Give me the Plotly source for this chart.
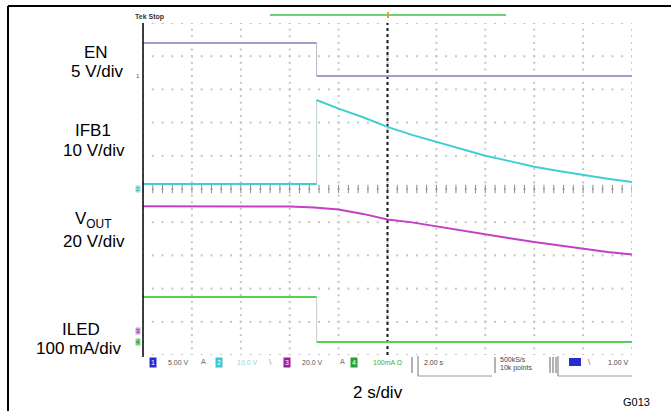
import plotly.graph_objects as go

W, H = 671, 411

# ---- timebase: 2 s/div, 10 divisions, trigger at screen centre ----
SEC_PER_DIV = 2.0
N_HDIV = 10
N_VDIV = 10
T_STEP = -2.9          # EN falling edge (s)

# ---- channel scales (unit/div) and ground offsets (div) ----
EN_SCALE, EN_OFFSET = 5.0, 3.40
IFB_SCALE, IFB_OFFSET = 10.0, 0.0
VOUT_SCALE, VOUT_OFFSET = 20.0, -4.28
ILED_SCALE, ILED_OFFSET = 100.0, -4.61

# ---- EN (V) ----
en_pre_t = [-10.0, T_STEP]
en_pre_v = [5.0, 5.0]
en_post_t = [T_STEP, 10.0]
en_post_v = [0.0, 0.0]

# ---- IFB1 (V) ----
ifb_pre_t = [-10.0, T_STEP]
ifb_pre_v = [1.5, 1.5]
ifb_post_t = [T_STEP, -2.0, -1.0, 0.0, 1.0, 2.0, 3.0, 4.0, 5.0, 6.0, 7.0, 8.0, 9.0, 10.0]
ifb_post_v = [26.8, 24.2, 21.6, 18.7, 16.3, 14.2, 12.0, 10.0, 8.4, 6.7, 5.4, 4.2, 3.1, 2.1]

# ---- VOUT (V) ----
vout_t = [-10.0, -6.0, -5.0, -4.0, -3.0, -2.0, -1.0, 0.0, 1.0, 2.0, 3.0, 4.0, 5.0, 6.0, 7.0, 8.0, 9.0, 10.0]
vout_v = [75.2, 75.2, 75.2, 75.0, 74.4, 73.3, 70.6, 67.2, 65.5, 63.0, 60.6, 58.2, 55.9, 53.7, 51.6, 49.6, 47.7, 46.1]

# ---- ILED (mA) ----
iled_pre_t = [-10.0, T_STEP]
iled_pre_v = [136.0, 136.0]
iled_post_t = [T_STEP, 10.0]
iled_post_v = [0.0, 0.0]

EN_COLOR = "#9e9ecb"
IFB_COLOR = "#3fcfcf"
VOUT_COLOR = "#c23fc6"
ILED_COLOR = "#55cf55"

# screen geometry (pixels)
GX0, GX1 = 143, 632
GY0, GY1 = 23, 355


def px(x):
    return x / W


def py(y):
    return 1 - y / H


def to_div(vals, scale, offset):
    return [offset + v / scale for v in vals]


fig = go.Figure()

# ---- graticule dots ----
half_t = SEC_PER_DIV * N_HDIV / 2
gx, gy = [], []
for i in range(N_HDIV + 1):
    t = -half_t + i * SEC_PER_DIV
    for k in range(N_VDIV * 5 + 1):
        gx.append(t)
        gy.append(-N_VDIV / 2 + k * 0.2)
for j in range(N_VDIV + 1):
    d = -N_VDIV / 2 + j
    for k in range(N_HDIV * 5 + 1):
        gx.append(-half_t + k * SEC_PER_DIV / 5)
        gy.append(d)
fig.add_trace(go.Scatter(x=gx, y=gy, mode="markers",
                         marker=dict(symbol="square", size=2, color="#c4c4c4", line=dict(width=0)),
                         hoverinfo="skip", showlegend=False))

# centre horizontal tick marks
tx = [-half_t + k * SEC_PER_DIV / 5 for k in range(N_HDIV * 5 + 1)]
fig.add_trace(go.Scatter(x=tx, y=[0] * len(tx), mode="markers",
                         marker=dict(symbol="line-ns", size=6, line=dict(width=1, color="#8a8a8a")),
                         hoverinfo="skip", showlegend=False))

# centre vertical (trigger) dotted line
fig.add_trace(go.Scatter(x=[0, 0], y=[-N_VDIV / 2, N_VDIV / 2], mode="lines",
                         line=dict(color="#1a1a1a", width=2, dash="dot"),
                         hoverinfo="skip", showlegend=False))


def add_line(t, v, scale, offset, color, width=2, opacity=1.0):
    fig.add_trace(go.Scatter(x=t, y=to_div(v, scale, offset), mode="lines",
                             line=dict(color=color, width=width), opacity=opacity,
                             hoverinfo="skip", showlegend=False))


# edges (fast transitions drawn faint)
add_line([T_STEP, T_STEP], [en_pre_v[-1], en_post_v[0]], EN_SCALE, EN_OFFSET, "#a8a8b8", 1, 0.8)
add_line([T_STEP, T_STEP], [ifb_pre_v[-1], ifb_post_v[0]], IFB_SCALE, IFB_OFFSET, "#b0c4c4", 1, 0.8)
add_line([T_STEP, T_STEP], [iled_pre_v[-1], iled_post_v[0]], ILED_SCALE, ILED_OFFSET, "#b4c4b4", 1, 0.8)

# waveforms
add_line(en_pre_t, en_pre_v, EN_SCALE, EN_OFFSET, EN_COLOR)
add_line(en_post_t, en_post_v, EN_SCALE, EN_OFFSET, EN_COLOR)
add_line(ifb_pre_t, ifb_pre_v, IFB_SCALE, IFB_OFFSET, IFB_COLOR)
add_line(ifb_post_t, ifb_post_v, IFB_SCALE, IFB_OFFSET, IFB_COLOR)
add_line(vout_t, vout_v, VOUT_SCALE, VOUT_OFFSET, VOUT_COLOR)
add_line(iled_pre_t, iled_pre_v, ILED_SCALE, ILED_OFFSET, ILED_COLOR)
add_line(iled_post_t, iled_post_v, ILED_SCALE, ILED_OFFSET, ILED_COLOR)

shapes = []
# outer frame
shapes.append(dict(type="line", xref="paper", yref="paper", x0=px(8), x1=px(672), y0=py(6), y1=py(6),
                   line=dict(color="black", width=2)))
shapes.append(dict(type="line", xref="paper", yref="paper", x0=px(8), x1=px(8), y0=py(6), y1=py(412),
                   line=dict(color="black", width=2)))
# left edge of the screen
shapes.append(dict(type="line", xref="paper", yref="paper", x0=px(GX0), x1=px(GX0), y0=py(23), y1=py(357),
                   line=dict(color="black", width=1.5)))
# record-length bar and trigger marker
shapes.append(dict(type="line", xref="paper", yref="paper", x0=px(270), x1=px(506), y0=py(15), y1=py(15),
                   line=dict(color="#6fcf7a", width=2)))
shapes.append(dict(type="line", xref="paper", yref="paper", x0=px(388), x1=px(388), y0=py(12), y1=py(18),
                   line=dict(color="#f0a030", width=2)))
# readout boxes
RY0, RY1 = 356, 376
for x0, x1 in [(418, 492), (558, 632)]:
    shapes.append(dict(type="line", xref="paper", yref="paper", x0=px(x0), x1=px(x0), y0=py(RY0), y1=py(RY1),
                       line=dict(color="#777", width=1)))
    shapes.append(dict(type="line", xref="paper", yref="paper", x0=px(x0), x1=px(x1), y0=py(RY1), y1=py(RY1),
                       line=dict(color="#999", width=1)))
for xb in [412, 495, 550, 553, 556]:
    shapes.append(dict(type="line", xref="paper", yref="paper", x0=px(xb), x1=px(xb), y0=py(357), y1=py(373),
                       line=dict(color="#666", width=1)))
# trigger-source pill in the readout
shapes.append(dict(type="rect", xref="paper", yref="paper", x0=px(569), x1=px(581), y0=py(366), y1=py(358),
                   line=dict(width=0), fillcolor="#2a2ad2"))

ann = []
FONT = "Liberation Sans, Arial, sans-serif"


def label(text, x, y, size=17, color="black", xanchor="center", family=FONT):
    ann.append(dict(text=text, x=px(x), y=py(y), xref="paper", yref="paper", showarrow=False,
                    xanchor=xanchor, yanchor="middle",
                    font=dict(family=family, size=size, color=color)))


label("EN", 96, 53)
label("5 V/div", 97, 71)
label("IFB1", 93, 131)
label("10 V/div", 94, 150)
label("V<sub>OUT</sub>", 93, 220)
label("20 V/div", 94, 242)
label("ILED", 81, 329)
label("100 mA/div", 79, 348)
label("2 s/div", 378, 392)
label("G013", 636, 402, size=11)
label("<b>Tek Stop</b>", 133, 17, size=7, color="#333", xanchor="left")

# channel ground markers
for txt, off, bg, fg in [("1", EN_OFFSET, "rgba(0,0,0,0)", "#4646c8"),
                         ("2", IFB_OFFSET, "#8fe3e3", "#2a9a9a"),
                         ("3", VOUT_OFFSET, "#c9a3d6", "#7a2a8a"),
                         ("4", ILED_OFFSET, "#7fd67f", "#1f7a1f")]:
    ann.append(dict(text=txt, x=px(141), y=off, xref="paper", yref="y", showarrow=False,
                    xanchor="right", yanchor="middle",
                    font=dict(family=FONT, size=6, color=fg), bgcolor=bg, borderpad=0))

# bottom readout
RY = 362
for txt, x, bg in [("1", 153, "#2a2ad2"), ("2", 219, "#35c8d0"), ("3", 287, "#9a1f9a"), ("4", 354, "#2aa02a")]:
    ann.append(dict(text=txt, x=px(x), y=py(RY), xref="paper", yref="paper", showarrow=False,
                    xanchor="center", yanchor="middle",
                    font=dict(family=FONT, size=7, color="white"), bgcolor=bg, borderpad=1))
for txt, x, col in [("5.00 V", 166, "#555"), ("10.0 V", 235, "#8fd6d6"), ("20.0 V", 300, "#555"),
                    ("100mA Ω", 371, "#3fae3f"), ("2.00 s", 422, "#444"), ("1.00 V", 606, "#444")]:
    label(txt, x, RY, size=7, color=col, xanchor="left")
for txt, x, col in [("A", 203, "#666"), ("\\", 270, "#888"), ("A", 342, "#666"), ("\\", 589, "#555")]:
    label(txt, x, RY, size=7, color=col, family="DejaVu Sans")
label("500kS/s", 498, 359, size=7, color="#444", xanchor="left")
label("10k points", 498, 368, size=7, color="#444", xanchor="left")

fig.update_layout(
    width=W, height=H,
    margin=dict(l=0, r=0, t=0, b=0),
    paper_bgcolor="white", plot_bgcolor="white",
    xaxis=dict(domain=[px(GX0), px(GX1)], range=[-half_t, half_t], showgrid=False, zeroline=False,
               showticklabels=False, showline=False, fixedrange=True),
    yaxis=dict(domain=[py(GY1), py(GY0)], range=[-N_VDIV / 2, N_VDIV / 2], showgrid=False, zeroline=False,
               showticklabels=False, showline=False, fixedrange=True),
    shapes=shapes,
    annotations=ann,
    showlegend=False,
)

fig.write_html("out.html")
